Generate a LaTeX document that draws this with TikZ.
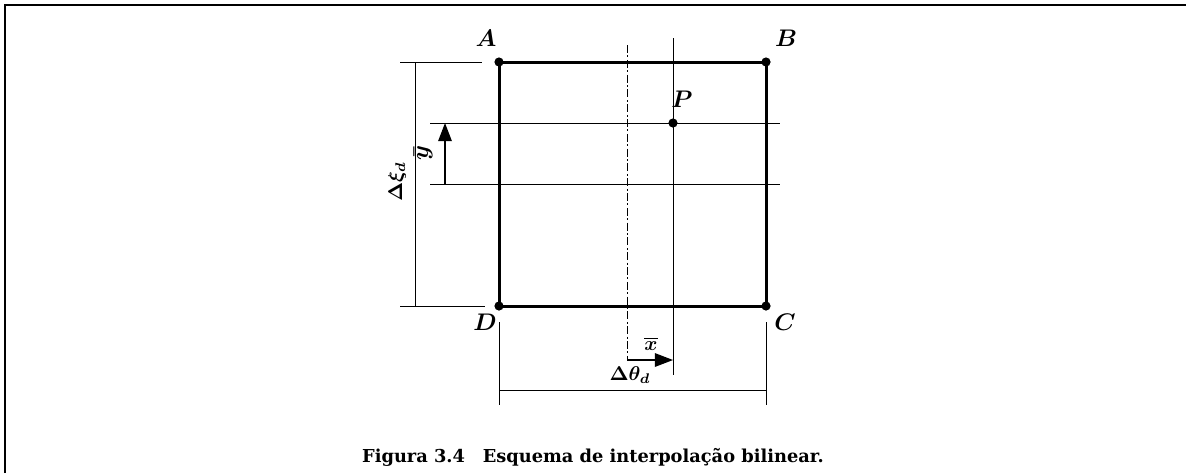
\documentclass[tikz,border=0pt]{standalone}
\usepackage{amsmath, amssymb}
\usepackage{fontspec}
\newfontfamily\capfont{DejaVu Serif}
\usepackage{tikz}
\usetikzlibrary{arrows.meta,positioning,calc}

\begin{document}
\begin{tikzpicture}[
  x=0.5pt, y=-0.5pt,
  >={Triangle[length=3.2mm, width=2.4mm]},
  frame/.style={draw=black, line width=1pt},
  edge/.style={draw=black, line width=1.5pt},
  thin/.style={draw=black, line width=0.5pt},
  axis/.style={draw=black, line width=0.5pt, dash pattern=on 4pt off 1.2pt on 1pt off 1.2pt},
  vec/.style={draw=black, line width=0.6pt, ->},
  dot/.style={circle, fill=black, inner sep=0pt, minimum size=4.6pt},
  corner/.style={font=\large\boldmath, inner sep=1pt},
  dim/.style={font=\normalsize\boldmath, inner sep=1pt}
]
\useasboundingbox (0,0) rectangle (1186,473);
\draw[frame] (5,473) -- (5,5) -- (1186,5);

% corners of the cell
\node[dot] (A) at (499,62) {};
\node[dot] (B) at (766,62) {};
\node[dot] (C) at (766,306) {};
\node[dot] (D) at (499,306) {};
\node[dot] (P) at (673,123) {};

\node[corner] (labA) at (486,38) {$A$};
\node[corner] (labB) at (786,38) {$B$};
\node[corner] (labC) at (785,322) {$C$};
\node[corner] (labD) at (485,322) {$D$};
\node[corner] (labP) at (682,99) {$P$};

% guide lines
\coordinate (ytop) at (430,123);
\coordinate (ytopR) at (780,123);
\coordinate (ybot) at (430,184);
\coordinate (ybotR) at (780,184);
\coordinate (mtop) at (627,45);
\coordinate (mbot) at (627,360);
\coordinate (ptop) at (673,38);
\coordinate (pbot) at (673,375);

\draw[thin] (ytop) -- (ytopR);
\draw[thin] (ybot) -- (ybotR);
\draw[axis] (mtop) -- (mbot);
\draw[thin] (ptop) -- (pbot);

\draw[edge] (A.center) -- (B.center) -- (C.center) -- (D.center) -- cycle;

% offsets
\draw[vec] (445,184) -- (445,123);
\node[dim, font=\large\boldmath, rotate=90] (ybar) at (423,153) {$\bar{y}$};
\draw[vec] (mbot) -- (mbot -| P);
\node[dim] (xbar) at (651,344) {$\overline{x}$};

% dimension lines
\coordinate (hA) at (400,62);
\coordinate (hD) at (400,306);
\draw[thin] (hA) -- ++(82,0);
\draw[thin] (hD) -- ++(85,0);
\draw[thin] (415,62) -- (415,306);
\node[dim, rotate=90] (dxi) at (397,182) {$\Delta\xi_d$};

\coordinate (vD) at (499,322);
\coordinate (vC) at (766,322);
\draw[thin] (vD) -- ++(0,83);
\draw[thin] (vC) -- ++(0,83);
\draw[thin] (499,390) -- (766,390);
\node[dim] (dth) at (630,375) {$\Delta\theta_d$};

\node[font=\capfont\bfseries\fontsize{8.9}{11}\selectfont] (cap) at (593,457) {Figura 3.4\quad Esquema de interpolação bilinear.};
\end{tikzpicture}
\end{document}
